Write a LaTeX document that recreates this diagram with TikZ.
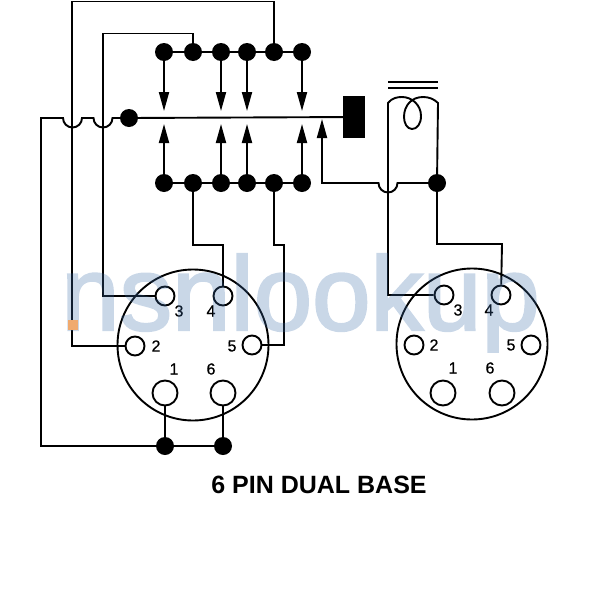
\documentclass[tikz,border=0pt]{standalone}
\usepackage{fontspec}
\setmainfont{Liberation Sans}
\newfontfamily\wmfont[FakeBold=2.2]{Liberation Sans}
\newfontfamily\numfont[FakeBold=0.6]{Liberation Sans}
\usetikzlibrary{arrows.meta}
\definecolor{wm}{RGB}{60,110,170}
\definecolor{wmo}{RGB}{240,170,110}
\tikzset{
  wire/.style={line width=1.9pt,line join=miter},
  dot/.style={circle,fill=black,draw=none,minimum size=18pt,inner sep=0pt},
  pin/.style={circle,draw=black,fill=none,line width=1.9pt,minimum size=19pt,inner sep=0pt},
  bigpin/.style={pin,minimum size=25pt},
  shell/.style={circle,draw=black,fill=none,line width=1.9pt,minimum size=151pt,inner sep=0pt},
  num/.style={font=\numfont\fontsize{16}{16}\selectfont,inner sep=0pt},
  arrowwire/.style={wire,-{Triangle[length=19pt,width=10pt]}},
  hop/.style={wire}
}
\begin{document}
\begin{tikzpicture}[x=1pt,y=-1pt]
\useasboundingbox (0,0) rectangle (600,600);
% top row
\foreach \n/\x in {t1/164,t2/193,t3/221,t4/247,t5/274,t6/302}{\node[dot] (\n) at (\x,52) {};}
\foreach \n/\x in {b1/164,b2/193,b3/221,b4/247,b5/274,b6/302}{\node[dot] (\n) at (\x,183) {};}
\node[dot] (start) at (129,118) {};
\node[dot] (j1) at (165,446) {};
\node[dot] (j6) at (223,446) {};
\node[dot] (lampj) at (437,183) {};
\node[draw=none,fill=black,minimum width=22pt,minimum height=42pt,inner sep=0pt] (block) at (354,117) {};
% sockets
\node[shell] (sa) at (193,345) {};
\node[pin] (a2) at (135,346) {};
\node[pin] (a3) at (165,296) {};
\node[pin] (a4) at (223,296) {};
\node[pin] (a5) at (252,345) {};
\node[bigpin] (a1) at (165,393) {};
\node[bigpin] (a6) at (223,393) {};
\node[shell] (sb) at (472,344) {};
\node[pin] (c2) at (414,345) {};
\node[pin] (c3) at (444,295) {};
\node[pin] (c4) at (501,295) {};
\node[pin] (c5) at (531,345) {};
\node[bigpin] (c1) at (443,393) {};
\node[bigpin] (c6) at (502,393) {};
% numbers
\foreach \n/\x/\y/\t in {na3/179/311/3,na4/211/311/4,na2/156/346/2,na5/232/346/5,na1/174/369/1,na6/211/369/6,
  nc3/458/310/3,nc4/489/310/4,nc2/434/345/2,nc5/511/345/5,nc1/453/368/1,nc6/490/368/6}{\node[num] (\n) at (\x,\y) {\t};}
\node[inner sep=0pt,font=\bfseries\fontsize{25}{25}\selectfont] (title) at (319,485) {6 PIN DUAL BASE};
% busses
\draw[wire] (t1) -- (t6);
\draw[wire] (b1) -- (b6);
\draw[wire] (start) -- (block);
% arrows
\foreach \a in {1,3,4,6}{
  \coordinate (ut\a) at (t\a |- 0,111);
  \coordinate (ub\a) at (b\a |- 0,124);
  \draw[arrowwire] (t\a) -- (ut\a);
  \draw[arrowwire] (b\a) -- (ub\a);
}
% wire from left bus with hops
\draw[hop] (j1) -- (41,446) -- (41,118) -- (63,118) arc[start angle=180,end angle=0,radius=9.5] -- (93.5,118) arc[start angle=180,end angle=0,radius=9.5] -- (start);
\draw[wire] (t5) -- (274,1.5) -- (72,1.5) -- (72,346) -- (a2);
\draw[wire] (t2) -- (193,33.5) -- (103,33.5) -- (103,296) -- (a3);
\draw[wire] (b2) -- (193,245) -- (223,245) -- (a4);
\draw[wire] (b5) -- (274,245) -- (284,245) -- (284,345) -- (a5);
\draw[wire] (a1) -- (j1);
\draw[wire] (a6) -- (j6);
\draw[wire] (j1) -- (j6);
% lamp return
\draw[wire,{Triangle[length=19pt,width=10pt]}-] (322,119) -- (322,183) -- (378.5,183) arc[start angle=180,end angle=0,radius=9.5] -- (lampj);
% lamp
\draw[wire] (c3) -- (388,295) -- (388,103) .. controls (392,98) and (397,97) .. (402,97) .. controls (412,97) and (421,105) .. (421,116) .. controls (421,124) and (417,129) .. (412,129) .. controls (407,129) and (404,123) .. (404,117) .. controls (404,105) and (412,97) .. (423,97) .. controls (429,97) and (434,99) .. (438,103) -- (lampj);
\draw[wire] (lampj) -- (437,244) -- (502,244) -- (c4);
\coordinate (barL1) at (388,82); \coordinate (barR1) at (438,82);
\coordinate (barL2) at (388,88); \coordinate (barR2) at (438,88);
\draw[wire] (barL1) -- (barR1);
\draw[wire] (barL2) -- (barR2);
% watermark, lying over the drawing
\begin{scope}[transparency group,opacity=0.28]
\node[anchor=base west,inner sep=0pt,text=wm,font=\wmfont\fontsize{105}{105}\selectfont] (mark) at (61,330) {nsnlookup};
\end{scope}
\fill[wmo] (68,320) rectangle (78,330);
\end{tikzpicture}
\end{document}
